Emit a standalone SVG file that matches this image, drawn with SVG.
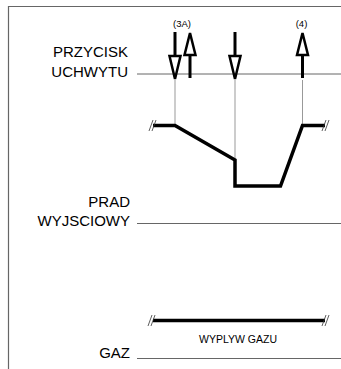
<svg xmlns="http://www.w3.org/2000/svg" width="341" height="369" viewBox="0 0 341 369">
<style>
.lbl{font-family:"Liberation Sans",Arial,sans-serif;font-size:15px;fill:#000;text-anchor:end}
.sm{font-family:"Liberation Sans",Arial,sans-serif;font-size:9.5px;fill:#000;text-anchor:middle}
.frame{stroke:#666;stroke-width:1.2;fill:none}
.axis{stroke:#666;stroke-width:1;fill:none}
.thin{stroke:#999;stroke-width:1;fill:none}
.wave{stroke:#000;stroke-width:3.5;fill:none;stroke-linejoin:miter}
.brk{stroke:#333;stroke-width:0.8;fill:none}
.shaft{stroke:#000;stroke-width:3;fill:none}
.head{stroke:#000;stroke-width:2.5;fill:#fff;stroke-linejoin:miter}
</style>
<g id="frame">
<path class="frame" d="M8.5,369 V6.5 H341"/>
</g>
<g id="przycisk">
<text class="lbl" x="128" y="57">PRZYCISK</text>
<text class="lbl" x="128" y="77">UCHWYTU</text>
<line class="axis" x1="137" y1="74" x2="341" y2="74"/>
</g>
<g id="prad">
<text class="lbl" x="130" y="207">PRAD</text>
<text class="lbl" x="130" y="226">WYJSCIOWY</text>
<line class="axis" x1="137" y1="223.5" x2="341" y2="223.5"/>
</g>
<g id="gaz">
<text class="lbl" x="130" y="358">GAZ</text>
<line class="axis" x1="137" y1="358.5" x2="341" y2="358.5"/>
</g>
<g id="labels">
<text class="sm" x="182" y="27">(3A)</text>
<text class="sm" x="301.5" y="27">(4)</text>
<text class="sm" style="font-size:10.5px" x="238" y="343">WYPLYW GAZU</text>
</g>
<g id="connectors">
<line class="thin" x1="175" y1="80" x2="175" y2="124"/>
<line class="thin" x1="235" y1="80" x2="235" y2="158"/>
<line class="thin" x1="302.5" y1="80" x2="302.5" y2="124"/>
</g>
<g id="arrow-down-1">
<line class="shaft" x1="175" y1="32" x2="175" y2="56"/>
<path class="head" d="M169.5,56 H180.5 L175,79 Z"/>
</g>
<g id="arrow-up-1">
<line class="shaft" x1="190" y1="54" x2="190" y2="78"/>
<path class="head" d="M184.5,55 H195.5 L190,33 Z"/>
</g>
<g id="arrow-down-2">
<line class="shaft" x1="235" y1="32" x2="235" y2="56"/>
<path class="head" d="M229.5,56 H240.5 L235,79 Z"/>
</g>
<g id="arrow-up-4">
<line class="shaft" x1="302.5" y1="54" x2="302.5" y2="78"/>
<path class="head" d="M297,55 H308 L302.5,33 Z"/>
</g>
<g id="current-wave">
<path class="wave" d="M153,125.5 H175 L235,160 V186 H280.5 L302.5,125.5 H325"/>
<path class="brk" d="M149,131 L153,120 M152,131 L156,120 M322,131 L326,120 M325,131 L329,120"/>
</g>
<g id="gas-wave">
<path class="wave" d="M153,320.5 H325"/>
<path class="brk" d="M148,326 L152,315 M151,326 L155,315 M322,326 L326,315 M325,326 L329,315"/>
</g>
</svg>
